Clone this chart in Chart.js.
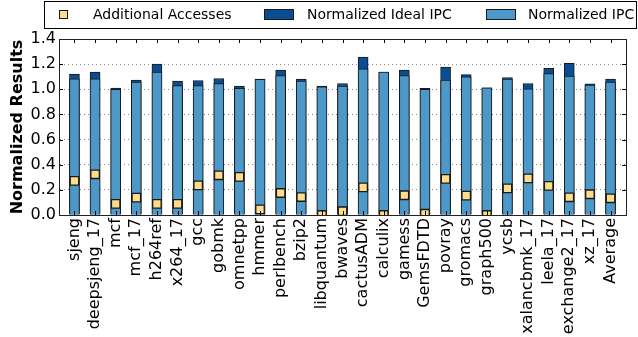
<!DOCTYPE html>
<html>
<head>
<meta charset="utf-8">
<script src="https://cdn.jsdelivr.net/npm/chart.js@4/dist/chart.umd.min.js"></script>
<style>
  html, body { margin: 0; padding: 0; background: #fff; }
  #wrap { width: 638px; height: 337px; }
</style>
</head>
<body>
<div id="wrap"><canvas id="c" width="638" height="337"></canvas></div>
<script>
// Benchmarks on the x axis
const categories = [
  'sjeng', 'deepsjeng_17', 'mcf', 'mcf_17', 'h264ref', 'x264_17', 'gcc', 'gobmk',
  'omnetpp', 'hmmer', 'perlbench', 'bzip2', 'libquantum', 'bwaves', 'cactusADM',
  'calculix', 'gamess', 'GemsFDTD', 'povray', 'gromacs', 'graph500', 'ycsb',
  'xalancbmk_17', 'leela_17', 'exchange2_17', 'xz_17', 'Average'
];

// Normalized IPC (front bar)
const normalizedIpc = [
  1.084, 1.084, 1.000, 1.057, 1.137, 1.030, 1.030, 1.046,
  1.007, 1.080, 1.110, 1.065, 1.020, 1.025, 1.163,
  1.137, 1.110, 1.000, 1.073, 1.100, 1.012, 1.081,
  1.004, 1.124, 1.105, 1.033, 1.057
];

// Normalized ideal IPC (back bar)
const normalizedIdealIpc = [
  1.121, 1.137, 1.010, 1.073, 1.200, 1.065, 1.070, 1.086,
  1.025, 1.081, 1.153, 1.081, 1.025, 1.046, 1.257,
  1.137, 1.153, 1.007, 1.177, 1.116, 1.012, 1.094,
  1.046, 1.166, 1.206, 1.044, 1.081
];

// Additional memory accesses (square markers)
const additionalAccesses = [
  0.271, 0.324, 0.088, 0.138, 0.088, 0.088, 0.236, 0.316,
  0.303, 0.045, 0.175, 0.143, 0.000, 0.030, 0.220,
  0.000, 0.157, 0.010, 0.287, 0.154, 0.000, 0.212,
  0.292, 0.231, 0.141, 0.165, 0.133
];

const yTicks = [0.0, 0.2, 0.4, 0.6, 0.8, 1.0, 1.2, 1.4];

const FONT = 'DejaVu Sans';
const LIGHT = '#4b98c9';
const DARK = '#0b4d92';
const YELLOW = '#fddc8c';
const EDGE = '#1a1a1a';

const toXY = arr => arr.map((v, i) => ({ x: i, y: v }));

// Frame around the plot with inward tick marks on all four sides
const frameTicks = {
  id: 'frameTicks',
  afterDatasetsDraw(chart) {
    const { ctx, chartArea: a, scales: { x, y } } = chart;
    ctx.save();
    ctx.strokeStyle = '#000';
    ctx.lineWidth = 1;
    ctx.beginPath();
    yTicks.forEach(t => {
      const py = Math.round(y.getPixelForValue(t)) + 0.5;
      ctx.moveTo(a.left, py); ctx.lineTo(a.left + 4, py);
      ctx.moveTo(a.right, py); ctx.lineTo(a.right - 4, py);
    });
    categories.forEach((_, i) => {
      const px = Math.round(x.getPixelForValue(i)) + 0.5;
      ctx.moveTo(px, a.bottom); ctx.lineTo(px, a.bottom - 4);
      ctx.moveTo(px, a.top); ctx.lineTo(px, a.top + 4);
    });
    ctx.stroke();
    ctx.strokeStyle = '#222';
    ctx.strokeRect(Math.round(a.left) + 0.5, Math.round(a.top) + 0.5,
                   Math.round(a.right - a.left), Math.round(a.bottom - a.top));
    ctx.restore();
  }
};

// Boxed legend across the top
const boxedLegend = {
  id: 'boxedLegend',
  afterDraw(chart) {
    const { ctx } = chart;
    ctx.save();
    ctx.fillStyle = '#fff';
    ctx.strokeStyle = '#000';
    ctx.lineWidth = 1;
    ctx.fillRect(44.5, 1.5, 592, 27);
    ctx.strokeRect(44.5, 1.5, 592, 27);
    const midY = 15;
    ctx.font = '14px "' + FONT + '"';
    ctx.textBaseline = 'middle';
    const items = chart.data.datasets;
    // square marker
    ctx.fillStyle = YELLOW;
    ctx.fillRect(59.5, midY - 4.5, 8, 8);
    ctx.strokeStyle = EDGE;
    ctx.strokeRect(59.5, midY - 4.5, 8, 8);
    ctx.fillStyle = '#000';
    ctx.fillText(items[0].label, 93, midY);
    // ideal IPC patch
    ctx.fillStyle = DARK;
    ctx.fillRect(264.5, midY - 5.5, 29, 10);
    ctx.strokeRect(264.5, midY - 5.5, 29, 10);
    ctx.fillStyle = '#000';
    ctx.fillText(items[1].label, 307, midY);
    // IPC patch
    ctx.fillStyle = LIGHT;
    ctx.fillRect(486.5, midY - 5.5, 29, 10);
    ctx.strokeRect(486.5, midY - 5.5, 29, 10);
    ctx.fillStyle = '#000';
    ctx.fillText(items[2].label, 528, midY);
    ctx.restore();
  }
};

new Chart(document.getElementById('c'), {
  type: 'bar',
  data: {
    datasets: [
      {
        type: 'line',
        label: 'Additional Accesses',
        data: toXY(additionalAccesses),
        showLine: false,
        pointStyle: 'rect',
        pointRadius: 6,
        pointBackgroundColor: YELLOW,
        pointBorderColor: EDGE,
        pointBorderWidth: 1.3,
        borderWidth: 0,
        clip: 0,
        order: 0
      },
      {
        label: 'Normalized Ideal IPC',
        data: toXY(normalizedIdealIpc),
        backgroundColor: DARK,
        borderColor: EDGE,
        borderWidth: 1,
        barThickness: 10,
        grouped: false,
        order: 2
      },
      {
        label: 'Normalized IPC',
        data: toXY(normalizedIpc),
        backgroundColor: LIGHT,
        borderColor: EDGE,
        borderWidth: 1,
        barThickness: 10,
        grouped: false,
        order: 1
      }
    ]
  },
  options: {
    responsive: false,
    animation: false,
    layout: { padding: { top: 39, right: 12, left: 0, bottom: 0 } },
    plugins: {
      legend: { display: false },
      tooltip: { enabled: false }
    },
    scales: {
      x: {
        type: 'linear',
        min: -0.75,
        max: 26.75,
        offset: false,
        grid: { display: false, drawTicks: false },
        border: { display: true, color: '#222', width: 1 },
        ticks: {
          stepSize: 1,
          includeBounds: false,
          autoSkip: false,
          maxRotation: 90,
          minRotation: 90,
          padding: 3,
          color: '#000',
          font: { family: FONT, size: 16 },
          callback: v => (Number.isInteger(v) ? categories[v] : '')
        },
        afterFit: s => { s.height = 122; }
      },
      y: {
        min: 0,
        max: 1.4,
        afterBuildTicks: s => { s.ticks = yTicks.map(v => ({ value: v })); },
        grid: {
          drawTicks: false,
          color: ctx => {
            const v = ctx.tick ? ctx.tick.value : 0;
            return (Math.abs(v) < 1e-6 || Math.abs(v - 1.4) < 1e-6) ? 'rgba(0,0,0,0)' : '#8c8c8c';
          },
          lineWidth: 1
        },
        border: { display: true, color: '#222', width: 1, dash: [1, 3], dashOffset: 0 },
        ticks: {
          padding: 3,
          color: '#000',
          font: { family: FONT, size: 16 },
          callback: v => v.toFixed(1)
        },
        title: {
          display: true,
          text: 'Normalized Results',
          color: '#000',
          font: { family: FONT, size: 16, weight: 'bold' },
          padding: { top: 8, bottom: 0 }
        },
        afterFit: s => { s.width = 59; }
      }
    }
  },
  plugins: [frameTicks, boxedLegend]
});
</script>
</body>
</html>
